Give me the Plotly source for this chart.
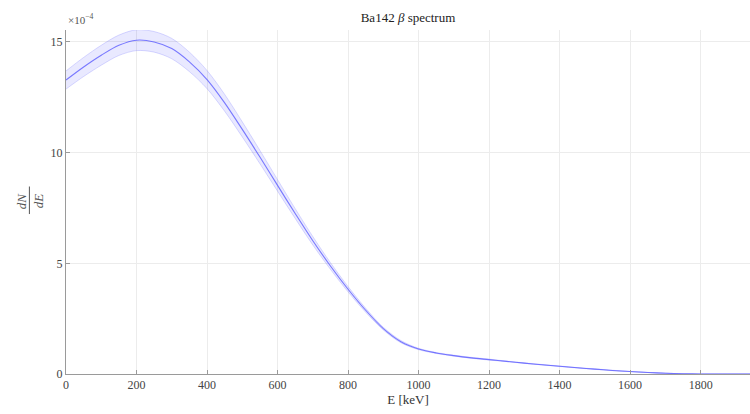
import plotly.graph_objects as go

# Ba-142 beta spectrum, dN/dE in units of 1e-4 per keV
energy_kev = [0, 50, 100, 150, 200, 250, 300, 350, 400, 450, 500, 550, 600, 650,
              700, 750, 800, 850, 900, 950, 1000, 1050, 1100, 1150, 1200, 1250,
              1300, 1350, 1400, 1450, 1500, 1550, 1600, 1650, 1700, 1750, 1800,
              1850, 1900, 1950]
dnde_mean = [13.28, 13.87, 14.40, 14.85, 15.08, 15.00, 14.70, 14.10, 13.30, 12.25,
             11.05, 9.80, 8.52, 7.25, 6.02, 4.88, 3.83, 2.88, 2.05, 1.46, 1.13,
             0.95, 0.83, 0.73, 0.65, 0.57, 0.49, 0.42, 0.35, 0.28, 0.22, 0.16,
             0.11, 0.07, 0.035, 0.01, 0.00, 0.00, 0.00, 0.00]
dnde_upper = [13.69, 14.30, 14.85, 15.31, 15.55, 15.47, 15.16, 14.54, 13.71, 12.63,
              11.39, 10.10, 8.78, 7.47, 6.21, 5.03, 3.95, 2.97, 2.11, 1.51, 1.16,
              0.97, 0.85, 0.75, 0.67, 0.58, 0.50, 0.43, 0.36, 0.29, 0.23, 0.17,
              0.11, 0.07, 0.036, 0.01, 0.00, 0.00, 0.00, 0.00]
dnde_lower = [12.87, 13.44, 13.95, 14.39, 14.61, 14.54, 14.24, 13.66, 12.89, 11.87,
              10.71, 9.50, 8.26, 7.03, 5.83, 4.73, 3.71, 2.79, 1.99, 1.41, 1.10,
              0.93, 0.81, 0.71, 0.63, 0.56, 0.48, 0.41, 0.34, 0.27, 0.21, 0.15,
              0.11, 0.07, 0.034, 0.01, 0.00, 0.00, 0.00, 0.00]

x_ticks = [0, 200, 400, 600, 800, 1000, 1200, 1400, 1600, 1800]
y_ticks = [0, 5, 10, 15]

FONT = "Liberation Serif"
band_edge = "rgba(120,120,255,0.35)"
smooth = 0.9

fig = go.Figure()
fig.add_trace(go.Scatter(
    x=energy_kev, y=dnde_upper, mode="lines",
    line=dict(color=band_edge, width=0.8, shape="spline", smoothing=smooth),
    hoverinfo="skip", showlegend=False))
fig.add_trace(go.Scatter(
    x=energy_kev, y=dnde_lower, mode="lines",
    line=dict(color=band_edge, width=0.8, shape="spline", smoothing=smooth),
    fill="tonexty", fillcolor="rgba(0,0,255,0.085)", hoverinfo="skip", showlegend=False))
fig.add_trace(go.Scatter(
    x=energy_kev, y=dnde_mean, mode="lines",
    line=dict(color="rgba(100,100,255,0.85)", width=1.1, shape="spline", smoothing=smooth),
    showlegend=False))

axis_common = dict(
    showgrid=True, gridcolor="#ececec", gridwidth=1, zeroline=False,
    showline=True, linecolor="#9a9a9a", linewidth=1,
    ticks="inside", ticklen=4, tickcolor="#9a9a9a",
    tickfont=dict(family=FONT, size=12, color="#444444"),
)

fig.update_layout(
    width=750, height=414,
    margin=dict(l=66, r=0, t=30, b=40),
    paper_bgcolor="white", plot_bgcolor="white",
    title=dict(text="Ba142 <i>β</i> spectrum", x=0.544, xanchor="center", y=0.958, yanchor="middle",
               font=dict(family=FONT, size=13, color="#222222")),
    xaxis=dict(range=[0, 1940], tickvals=x_ticks,
               title=dict(text="E [keV]", font=dict(family=FONT, size=13, color="#333333"), standoff=2),
               **axis_common),
    yaxis=dict(range=[0, 15.54], tickvals=y_ticks, **axis_common),
    showlegend=False,
)

# exponent multiplier above the y axis
fig.add_annotation(text="×10<sup>−4</sup>", xref="paper", yref="paper", x=0.0, y=1.0,
                   xanchor="left", yanchor="bottom", showarrow=False, yshift=2,
                   font=dict(family=FONT, size=11, color="#555555"))

# y-axis label drawn as a rotated fraction dN/dE
fig.add_annotation(text="<i>dN</i>", xref="paper", yref="paper", x=-0.066, y=0.505,
                   xanchor="center", yanchor="middle", textangle=-90, showarrow=False,
                   font=dict(family=FONT, size=13, color="#555555"))
fig.add_annotation(text="<i>dE</i>", xref="paper", yref="paper", x=-0.041, y=0.505,
                   xanchor="center", yanchor="middle", textangle=-90, showarrow=False,
                   font=dict(family=FONT, size=13, color="#555555"))
fig.add_shape(type="line", xref="paper", yref="paper", x0=-0.0535, x1=-0.0535, y0=0.465, y1=0.545,
              line=dict(color="#555555", width=1))

fig.write_html("out.html")
